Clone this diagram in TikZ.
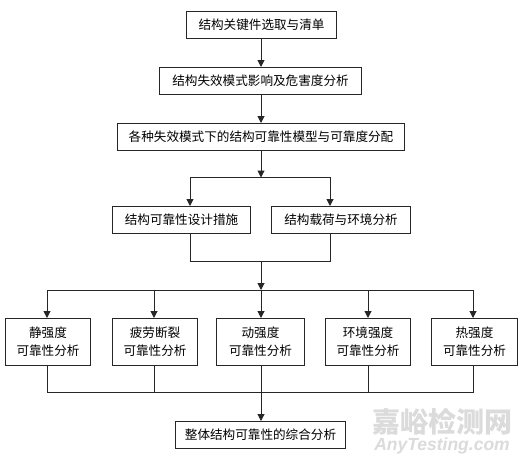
\documentclass[tikz,border=0pt]{standalone}
\usepackage{fontspec}
\setmainfont{Noto Sans CJK SC}
\newfontfamily\latinfont{Liberation Sans}
\usetikzlibrary{arrows.meta,calc}
\tikzset{
  box/.style={draw=black!85,line width=1pt,fill=white,inner sep=0pt,anchor=north west,align=center,font=\fontsize{12.6}{18}\selectfont},
  link/.style={draw=black!85,line width=1pt},
  arrowlink/.style={link,-{Triangle[length=7pt,width=7pt]}},
}
\newcommand{\boxat}[6]{\node[box,minimum width=#4pt-#3pt,minimum height=#6pt-#5pt] (#1) at (#3pt,-#5pt) {#2};}
\begin{document}
\begin{tikzpicture}[x=1pt,y=-1pt]
\useasboundingbox (0,0) rectangle (527,463);
\fill[white] (0,0) rectangle (527,463);
% watermark
\node[text=black!14,font=\fontsize{28}{28}\selectfont\bfseries,inner sep=0pt] (wm1) at (442,422) {嘉峪检测网};
\node[text=black!14,font=\fontsize{17.5}{18}\latinfont\bfseries\itshape,inner sep=0pt] (wm2) at (442,446) {AnyTesting.com};
% boxes
\boxat{a}{结构关键件选取与清单}{186}{336}{11}{38}
\boxat{b}{结构失效模式影响及危害度分析}{159}{361}{67}{94}
\boxat{c}{各种失效模式下的结构可靠性模型与可靠度分配}{117}{404}{123}{150}
\boxat{d}{结构可靠性设计措施}{112}{250}{206}{233}
\boxat{e}{结构载荷与环境分析}{271}{410}{206}{233}
\boxat{r1}{静强度\\可靠性分析}{5}{90}{318}{364.5}
\boxat{r2}{疲劳断裂\\可靠性分析}{112}{197}{318}{364.5}
\boxat{r3}{动强度\\可靠性分析}{216}{304}{318}{364.5}
\boxat{r4}{环境强度\\可靠性分析}{325}{410}{318}{364.5}
\boxat{r5}{热强度\\可靠性分析}{431}{517}{318}{364.5}
\boxat{z}{整体结构可靠性的综合分析}{175}{345}{421}{448}
% junctions
\coordinate (j1) at (261,177.5);
\coordinate (j1d) at (190,177.5);
\coordinate (j1e) at (330,177.5);
\coordinate (dout) at (190,233);
\coordinate (eout) at (330,233);
\coordinate (dd) at (190,261.5);
\coordinate (ee) at (330,261.5);
\coordinate (j2a) at (261,261.5);
\coordinate (j2) at (261,290);
\coordinate (j3) at (261,392.5);
% connectors
\draw[arrowlink] (a.south -| j1) -- (b.north -| j1);
\draw[arrowlink] (b.south -| j1) -- (c.north -| j1);
\draw[arrowlink] (c.south -| j1) -- (j1);
\draw[arrowlink] (j1) -- (j1d) -- (d.north -| j1d);
\draw[arrowlink] (j1) -- (j1e) -- (e.north -| j1e);
\draw[link] (dout) -- (dd) -- (ee) -- (eout);
\draw[arrowlink] (j2a) -- (j2);
\foreach \n/\x in {r1/47,r2/154,r3/261,r4/368,r5/473}{
  \coordinate (t\n) at (\x,290);
  \coordinate (b\n) at (\x,392.5);
  \draw[arrowlink] (j2) -- (t\n) -- (\n.north -| t\n);
  \draw[link] (\n.south -| b\n) -- (b\n) -- (j3);
}
\draw[arrowlink] (j3) -- (z.north -| j3);
\end{tikzpicture}
\end{document}
